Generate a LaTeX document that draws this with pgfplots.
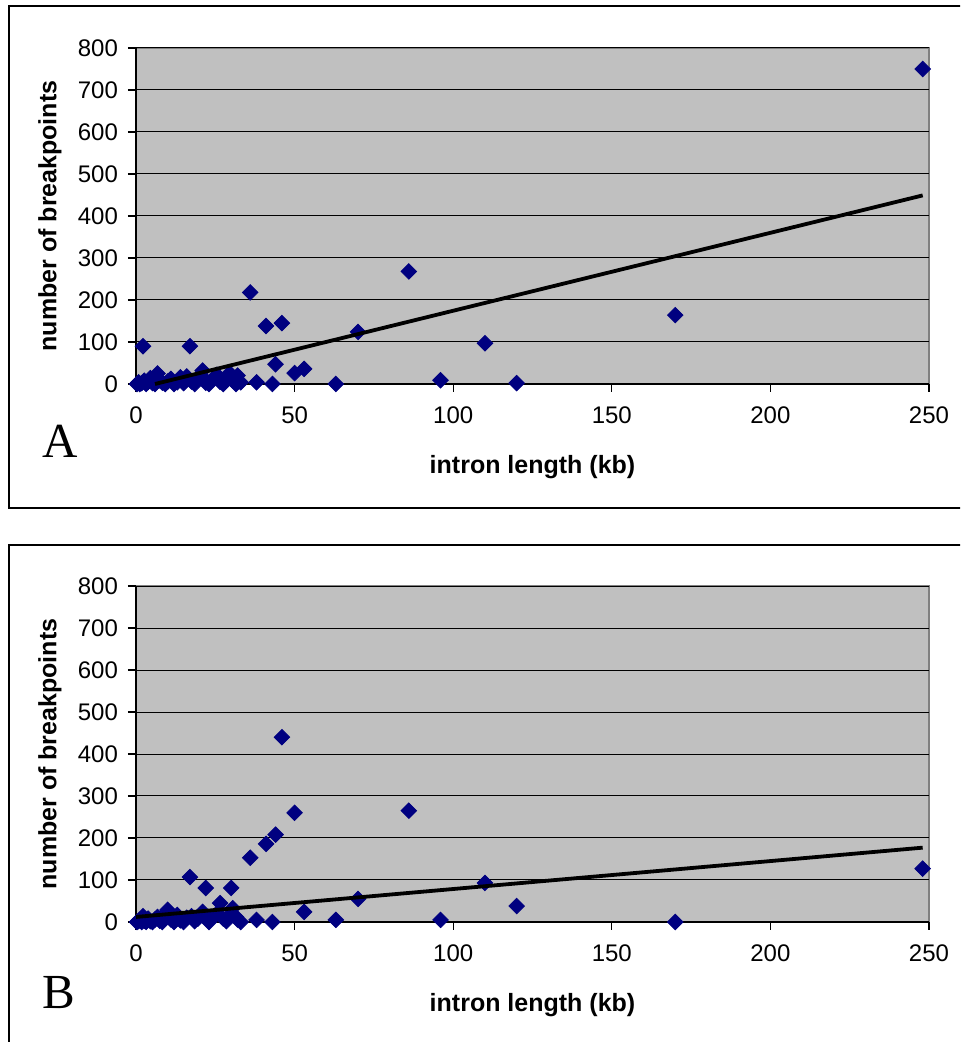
\documentclass[border=0pt]{standalone}
\usepackage{fontspec}
\setmainfont{Liberation Sans}
\newfontfamily\timesfont{Liberation Serif}
\usepackage{pgfplots}
\pgfplotsset{compat=1.18}

\definecolor{plotgray}{RGB}{192,192,192}
\definecolor{navy}{RGB}{0,0,128}

\pgfplotstableread{
x y
0.3 0
0.8 4
1.2 0
1.8 2
2.2 90
2.6 8
3.2 0
3.8 5
4.5 14
5.2 2
6 0
6.8 25
7.5 9
8.3 3
9.2 0
10 6
11 12
12 0
13 4
14 16
15 2
16 18
17 90
17.5 6
18.5 0
19.5 14
20.5 20
21 32
22 3
23 0
24 10
25.5 22
26.5 5
27.5 0
28.5 14
29.5 26
30.5 8
31.5 0
32 20
33 4
36 218
38 4
41 138
43 0
44 47
46 145
50 26
53 36
63 0
70 124
86 268
96 9
110 97
120 2
170 164
248 750
}\dataA

\pgfplotstableread{
x y
0.3 0
0.8 2
1.2 5
1.8 0
2.2 14
2.6 3
3.2 0
3.8 8
4.5 2
5.2 0
6 6
6.8 12
7.5 3
8.3 0
9.2 20
10 29
11 6
12 0
13 17
14 4
15 0
16 10
17 107
17.5 14
18.5 2
19.5 8
20.5 18
21 24
22 81
23 0
24 12
25.5 20
26.5 45
27.5 8
28.5 2
29.5 16
30 81
30.5 33
31.5 12
32 6
33 0
36 153
38 5
41 186
43 0
44 208
46 440
50 260
53 24
63 5
70 55
86 265
96 5
110 93
120 38
170 0
248 127
}\dataB

\pgfplotsset{
  excel/.style={
    scale only axis,
    width=396.5pt, height=168pt,
    anchor=south west,
    xmin=0, xmax=250, ymin=0, ymax=800,
    xtick={0,50,...,250}, ytick={0,100,...,800},
    axis x line*=bottom, axis y line*=left,
    axis line style={-, black, line width=0.8pt},
    axis background/.style={fill=plotgray, draw=gray, line width=0.8pt},
    tick align=outside, major tick length=4pt,
    tick style={black, line width=0.6pt},
    ymajorgrids=true,
    grid style={black, line width=0.5pt},
    clip=false, clip marker paths=true,
    /pgf/number format/assume math mode=true,
    tick label style={font=\fontsize{12}{14}\selectfont},
    xticklabel style={yshift=-4pt},
    yticklabel style={xshift=-1.5pt},
    label style={font=\fontsize{12.5}{15}\selectfont\bfseries},
    xlabel={intron length (kb)},
    ylabel={number of breakpoints},
    xlabel style={at={(axis description cs:0.5,-0.246)}, anchor=center},
    ylabel style={at={(axis description cs:-0.1085,0.5)}, anchor=center},
  },
  pts/.style={only marks, mark=square*, mark size=2.75pt,
    mark options={rotate=45, fill=navy, draw=navy}},
  trend/.style={black, line width=1.9pt, no marks},
}

\begin{document}
\begin{tikzpicture}
\useasboundingbox (0pt,0pt) rectangle (480pt,521pt);
\begin{scope}
\clip (0pt,0pt) rectangle (480pt,521pt);
\draw[line width=0.75pt] (4.5pt,518pt) rectangle (490pt,267pt);
\draw[line width=0.75pt] (4.5pt,248.5pt) rectangle (490pt,-10pt);
\node[anchor=base west, inner sep=0pt, font=\timesfont\fontsize{24.5}{28}\selectfont] at (21pt,292pt) {A};
\node[anchor=base west, inner sep=0pt, font=\timesfont\fontsize{24.5}{28}\selectfont] at (21pt,16.5pt) {B};

\begin{axis}[excel, at={(68pt,329pt)}]
\addplot[pts] table[x=x, y=y] {\dataA};
\addplot[trend] coordinates {(6,0) (248,449)};
\end{axis}

\begin{axis}[excel, at={(68pt,60pt)}]
\addplot[pts] table[x=x, y=y] {\dataB};
\addplot[trend] coordinates {(0,12) (248,177)};
\end{axis}
\end{scope}
\end{tikzpicture}
\end{document}
